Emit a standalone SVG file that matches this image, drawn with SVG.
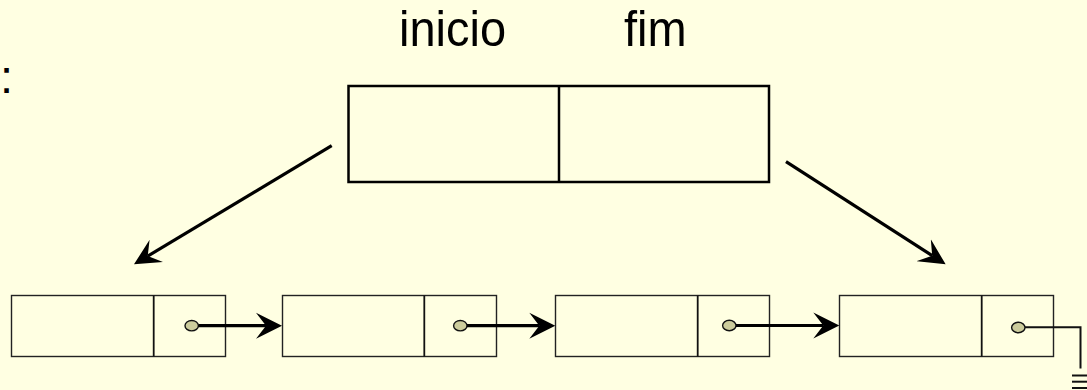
<svg xmlns="http://www.w3.org/2000/svg" width="1087" height="390" viewBox="0 0 1087 390">
<defs>
<style>
.bg{fill:#FFFFE2}
.lbl{font-family:"Liberation Sans",Arial,sans-serif;font-size:47px;fill:#000}
.head{fill:none;stroke:#000;stroke-width:2.5}
.cell{fill:#FFFFE2;stroke:#222;stroke-width:1.4}
.div{stroke:#111;stroke-width:1.8}
.dot{fill:#CCCC9C;stroke:#111;stroke-width:1.4}
.ptr{stroke:#000;stroke-width:3.2;fill:none}
.thin{stroke:#111;stroke-width:2;fill:none}
</style>
<marker id="ah" markerUnits="userSpaceOnUse" markerWidth="27" markerHeight="27" viewBox="0 0 27 27" refX="10" refY="13.5" orient="auto">
<path d="M26,13.5 L0,0.5 L10,13.5 L0,26.5 Z" fill="#000"/>
</marker>
</defs>
<rect class="bg" x="0" y="0" width="1087" height="390"/>
<text class="lbl" x="0" y="93">:</text>
<g id="head">
<text class="lbl" x="399" y="46" transform="translate(0,46) scale(1,1.08) translate(0,-46)">inicio</text>
<text class="lbl" x="624" y="46" transform="translate(0,46) scale(1,1.08) translate(0,-46)">fim</text>
<rect class="head" x="348.5" y="86" width="420.5" height="96"/>
<line class="head" x1="559" y1="86" x2="559" y2="182"/>
</g>
<g id="node1">
<rect class="cell" x="11.5" y="295.5" width="214" height="61"/>
<line class="div" x1="153.7" y1="295.5" x2="153.7" y2="356.5"/>
<ellipse class="dot" cx="191.7" cy="325.7" rx="6.7" ry="5.2"/>
</g>
<g id="node2">
<rect class="cell" x="282.5" y="295.5" width="214" height="61"/>
<line class="div" x1="424.3" y1="295.5" x2="424.3" y2="356.5"/>
<ellipse class="dot" cx="460.3" cy="325.7" rx="6.7" ry="5.2"/>
</g>
<g id="node3">
<rect class="cell" x="555.5" y="295.5" width="214" height="61"/>
<line class="div" x1="697.7" y1="295.5" x2="697.7" y2="356.5"/>
<ellipse class="dot" cx="729.3" cy="325.5" rx="6.7" ry="5.2"/>
</g>
<g id="node4">
<rect class="cell" x="839.5" y="295.5" width="214" height="61"/>
<line class="div" x1="981.7" y1="295.5" x2="981.7" y2="356.5"/>
<ellipse class="dot" cx="1018.3" cy="327.5" rx="6.7" ry="5.2"/>
</g>
<g id="connectors">
<line class="ptr" x1="331.7" y1="145.7" x2="147.7" y2="256.1" marker-end="url(#ah)"/>
<line class="ptr" x1="786" y1="161.7" x2="932.2" y2="255.65" marker-end="url(#ah)"/>
<line class="ptr" x1="198.4" y1="325.7" x2="266" y2="325.7" marker-end="url(#ah)"/>
<line class="ptr" x1="467" y1="325.7" x2="539.3" y2="325.7" marker-end="url(#ah)"/>
<line class="ptr" x1="736" y1="325.5" x2="823.3" y2="325.5" marker-end="url(#ah)"/>
<polyline class="thin" points="1025,327.3 1080.5,327.3 1080.5,368.5"/>
<g class="thin">
<line x1="1072" y1="375.5" x2="1088" y2="375.5"/>
<line x1="1072" y1="381.7" x2="1088" y2="381.7"/>
<line x1="1072" y1="388" x2="1088" y2="388"/>
</g>
</g>
</svg>
